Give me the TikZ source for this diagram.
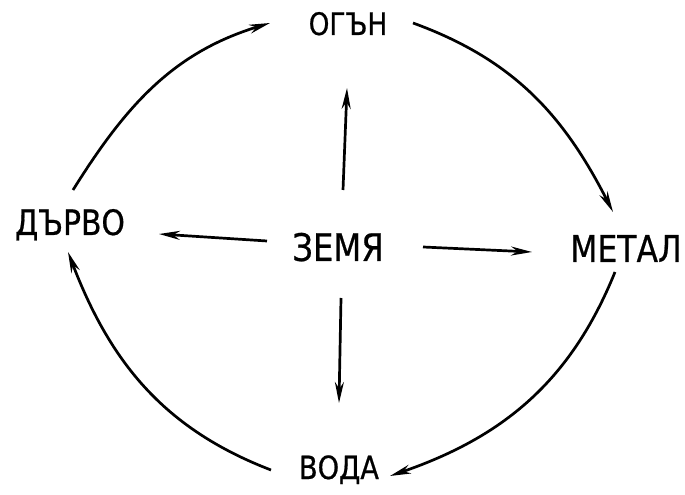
\documentclass[tikz,border=0pt]{standalone}
\usepackage{fontspec}
\newfontfamily\lblfont[FakeStretch=0.85,FakeBold=0.6]{DejaVu Sans}
\usetikzlibrary{arrows.meta}
\tikzset{
  lbl/.style={inner sep=0pt, anchor=base, font=\lblfont\fontsize{36}{36}\selectfont},
  conn/.style={line width=2.7pt, -{Stealth[length=21pt,width=9pt]}}
}
\begin{document}
\begin{tikzpicture}[x=1pt,y=1pt]
\useasboundingbox[fill=white] (0,0) rectangle (685,495);
% labels
\node[lbl, font=\lblfont\fontsize{31}{31}\selectfont] (fire) at (348,460) {ОГЪН};
\node[lbl, font=\lblfont\fontsize{35}{35}\selectfont] (wood) at (70,260) {ДЪРВО};
\node[lbl, font=\lblfont\fontsize{38}{38}\selectfont] (earth) at (338,234) {ЗЕМЯ};
\node[lbl, font=\lblfont\fontsize{37}{37}\selectfont] (metal) at (626,233) {МЕТАЛ};
\node[lbl, font=\lblfont\fontsize{32}{32}\selectfont] (water) at (339,16) {ВОДА};
% arc end points
\coordinate (a1) at (73,305);  \coordinate (a2) at (270,472);
\coordinate (b1) at (413,472); \coordinate (b2) at (613,283);
\coordinate (c1) at (615,223); \coordinate (c2) at (390,19);
\coordinate (d1) at (271,25);  \coordinate (d2) at (68,243);
% centre arrow end points
\coordinate (u1) at (343,305); \coordinate (u2) at (347,407);
\coordinate (l1) at (267,254); \coordinate (l2) at (159,261);
\coordinate (r1) at (423,248); \coordinate (r2) at (532,243);
\coordinate (w1) at (341,197); \coordinate (w2) at (339,92);
% cycle
\draw[conn] (a1) to[out=58,in=197] (a2);
\draw[conn] (b1) to[out=-20,in=117] (b2);
\draw[conn] (c1) to[out=-112,in=19] (c2);
\draw[conn] (d1) to[out=159,in=-69] (d2);
% from earth
\draw[conn] (u1) -- (u2);
\draw[conn] (l1) -- (l2);
\draw[conn] (r1) -- (r2);
\draw[conn] (w1) -- (w2);
\end{tikzpicture}
\end{document}
